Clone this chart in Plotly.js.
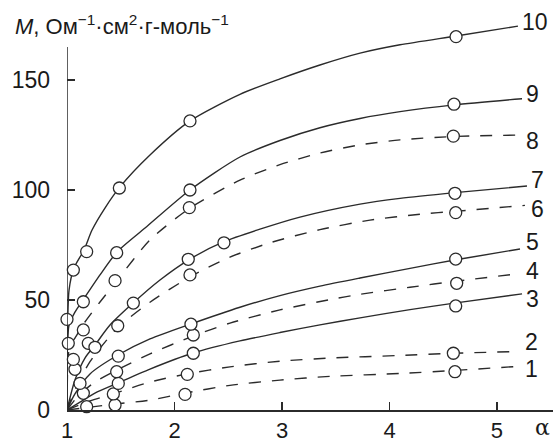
<!DOCTYPE html>
<html><head><meta charset="utf-8">
<script src="https://cdn.plot.ly/plotly-3.0.1.min.js"></script>
<style>html,body{margin:0;padding:0;background:#fff;}</style>
</head><body><div id="chart" style="width:554px;height:445px;"></div>
<script>
// Curve readings (alpha, M)
const curveA10 = [1.0,1.005,1.019,1.065,1.158,1.233,1.353,1.493,1.772,2.144,2.609,2.981,3.353,3.726,4.098,4.619,5.195];
const curveM10 = [0,36,54.5,64.5,72.7,81.8,91.8,101.4,115.9,131.4,143.5,150.5,156.8,162.2,166,170,174.5];
const curveA9 = [1.0,1.005,1.019,1.074,1.149,1.307,1.465,1.726,2.144,2.609,2.981,3.353,3.726,4.098,4.6,5.233];
const curveM9 = [0,29.5,38.6,44.5,50,61.4,71.8,82.7,100,115,122.5,128.3,132.5,135.6,138.7,141.5];
const curveA8 = [1.0,1.009,1.028,1.074,1.167,1.307,1.447,1.772,2.144,2.609,2.981,3.353,3.726,4.098,4.591,5.233];
const curveM8 = [0,22.7,29.5,32.7,40,49.1,57.7,77.3,91.8,104.5,111.5,116.8,120.5,122.8,124.3,125];
const curveA7 = [1.0,1.074,1.167,1.26,1.4,1.614,1.865,2.144,2.46,2.795,3.167,3.726,4.098,4.609,5.279];
const curveM7 = [0,13.6,23.6,29.5,38.6,48.6,59.1,68.6,76.5,82.2,87.7,93.6,96.2,98.8,101.8];
const curveA6 = [1.0,1.074,1.214,1.474,1.772,2.144,2.516,2.888,3.353,3.819,4.284,4.609,5.26];
const curveM6 = [0,9,22,37.5,49,60.5,69.5,76,82,86.3,89,90.3,93];
const curveA5 = [1.0,1.074,1.214,1.474,1.772,2.153,2.609,2.981,3.353,3.726,4.191,4.619,5.214];
const curveM5 = [0,7.3,16.4,25,32.3,39.1,46.7,52,56.3,60,64.4,68.3,73.2];
const curveA4 = [1.0,1.121,1.26,1.465,1.772,2.172,2.516,2.981,3.447,3.726,4.191,4.628,5.214];
const curveM4 = [0,7.3,12.7,18.2,25.5,33.6,39.5,45.5,50.2,52.6,55.8,58.6,62];
const curveA3 = [1.0,1.121,1.26,1.474,1.772,2.172,2.609,2.981,3.353,3.726,4.191,4.619,5.233];
const curveM3 = [0,3.6,7.7,12.3,18.6,25.9,31.4,35.2,38.7,41.9,45.6,48.7,52.8];
const curveA2 = [1.0,1.214,1.428,1.772,2.116,2.516,2.981,3.447,4.098,4.591,5.149];
const curveM2 = [0,4.1,7.3,12.7,16.4,19.6,22.2,23.6,24.8,25.8,26.5];
const curveA1 = [1.0,1.447,1.772,2.098,2.516,2.981,3.447,4.098,4.609,5.186];
const curveM1 = [0,2.7,4.5,7.7,11.2,13.6,15.3,16.6,18,19.8];

// Measured points (alpha, M)
const ptA10 = [1.059,1.183,1.487,2.144,4.619];
const ptM10 = [63.6,72.0,100.9,131.4,169.7];
const ptA9 = [1.0,1.152,1.462,2.144,4.6];
const ptM9 = [41.2,49.2,71.5,100,139];
const ptA8 = [1.012,1.152,1.447,2.138,4.594];
const ptM8 = [30.3,36.4,58.8,92,124.5];
const ptA7 = [1.198,1.26,1.617,2.128,2.46,4.609];
const ptM7 = [30.3,28.5,48.6,68.5,76,98.5];
const ptA6 = [1.059,1.472,2.144,4.616];
const ptM6 = [23,38.3,61.4,89.7];
const ptA5 = [1.074,1.477,2.153,4.616];
const ptM5 = [18.5,24.5,39,68.6];
const ptA4 = [1.121,1.462,2.175,4.625];
const ptM4 = [12.1,17.4,34.1,57.6];
const ptA3 = [1.152,1.477,2.175,4.616];
const ptM3 = [7.6,12.1,25.8,47.3];
const ptA2 = [1.431,2.119,4.594];
const ptM2 = [7.3,16.2,25.8];
const ptA1 = [1.183,1.447,2.098,4.609];
const ptM1 = [1.5,2.3,7.1,17.4];

const curveNames = ["1","2","3","4","5","6","7","8","9","10"];
const curveDashed = [true,true,false,true,false,true,false,true,false,false];
const labelA = [5.323,5.323,5.33,5.33,5.33,5.38,5.38,5.33,5.33,5.353];
const labelM = [18.5,31,50.5,63,76.5,91.5,104.5,122.5,143.5,176.4];

const xTicks = [1,2,3,4,5];
const yTicks = [0,50,100,150];

const curvesA = [curveA1,curveA2,curveA3,curveA4,curveA5,curveA6,curveA7,curveA8,curveA9,curveA10];
const curvesM = [curveM1,curveM2,curveM3,curveM4,curveM5,curveM6,curveM7,curveM8,curveM9,curveM10];
const ptsA = [ptA1,ptA2,ptA3,ptA4,ptA5,ptA6,ptA7,ptA8,ptA9,ptA10];
const ptsM = [ptM1,ptM2,ptM3,ptM4,ptM5,ptM6,ptM7,ptM8,ptM9,ptM10];

const ink = "#2b2b2b";
const font = "Liberation Sans, Arial, sans-serif";
const traces = [];
for (let i = 0; i < 10; i++) {
  traces.push({x: curvesA[i], y: curvesM[i], mode: "lines", type: "scatter",
    line: {color: ink, width: 1.4, shape: "spline", smoothing: 0.7, dash: curveDashed[i] ? "12px,11px" : "solid"},
    hoverinfo: "skip", showlegend: false, cliponaxis: false});
}
for (let i = 0; i < 10; i++) {
  traces.push({x: ptsA[i], y: ptsM[i], mode: "markers", type: "scatter",
    marker: {symbol: "circle", size: 12, color: "#ffffff", line: {color: ink, width: 1.3}},
    showlegend: false, cliponaxis: false});
}
const annotations = curveNames.map((n, i) => ({x: labelA[i], y: labelM[i], xref: "x", yref: "y",
  text: n, showarrow: false, xanchor: "center", yanchor: "middle", font: {family: font, size: 23, color: "#1a1a1a"}}));
annotations.push({xref: "paper", yref: "paper", x: -0.111, y: 0.972, xanchor: "left", yanchor: "middle",
  text: "<i>M</i>, Ом<sup>−1</sup>·см<sup>2</sup>·г-моль<sup>−1</sup>", showarrow: false,
  font: {family: font, size: 22, color: "#1a1a1a"}});
annotations.push({xref: "paper", yref: "paper", x: 0.978, y: -0.045, xanchor: "center", yanchor: "middle",
  text: "α", showarrow: false, font: {family: "DejaVu Serif, serif", size: 22, color: "#1a1a1a"}});

const layout = {
  width: 554, height: 445,
  margin: {l: 67, r: 1, t: 14, b: 35, pad: 0},
  paper_bgcolor: "#ffffff", plot_bgcolor: "#ffffff",
  showlegend: false,
  xaxis: {range: [1, 5.521], tickvals: xTicks, ticktext: xTicks.map(String), ticks: "inside", ticklen: 8, tickwidth: 1.4, tickcolor: ink,
    showline: true, linecolor: ink, linewidth: 1.5, showgrid: false, zeroline: false,
    tickfont: {family: font, size: 22, color: "#1a1a1a"}, ticklabelstandoff: 0},
  yaxis: {range: [0, 180], tickvals: yTicks, ticktext: yTicks.map(String), ticks: "inside", ticklen: 8, tickwidth: 1.4, tickcolor: ink,
    showline: false, showgrid: false, zeroline: false,
    tickfont: {family: font, size: 23, color: "#1a1a1a"}, ticklabelstandoff: 16},
  shapes: [{type: "line", xref: "x", yref: "y", x0: 1, x1: 1, y0: 0, y1: 165, line: {color: ink, width: 1.5}}],
  annotations: annotations
};
Plotly.newPlot("chart", traces, layout, {staticPlot: true, displayModeBar: false});
</script></body></html>
